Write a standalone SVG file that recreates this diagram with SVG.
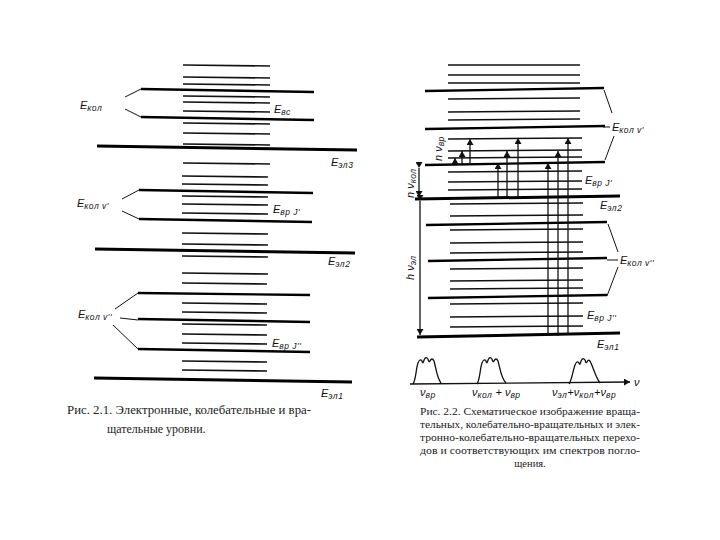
<svg xmlns="http://www.w3.org/2000/svg" width="720" height="540" viewBox="0 0 720 540">
<style>
.s{stroke:#111;stroke-width:1.6;fill:none}
.v{stroke:#000;stroke-width:2.4;fill:none}
.e{stroke:#000;stroke-width:3;fill:none}
.c{stroke:#111;stroke-width:1;fill:none}
.a{stroke:#111;stroke-width:1.3;fill:none}
.lb{font-family:"Liberation Sans",Arial,sans-serif;font-style:italic;font-size:11px;fill:#111}
.sb{font-size:8.5px;letter-spacing:0.5px}
.cap{font-family:"Liberation Serif","Times New Roman",serif;font-size:12px;fill:#222}
.cap2{font-family:"Liberation Serif","Times New Roman",serif;font-size:10.5px;fill:#222}
</style>
<defs>
<marker id="ah" markerUnits="userSpaceOnUse" markerWidth="6" markerHeight="7" refX="6" refY="3.5" orient="auto">
<path d="M0,0 L6,3.5 L0,7 z" fill="#111"/>
</marker>
</defs>
<rect width="720" height="540" fill="#fff"/>

<g id="fig1">
<g id="fig1-rot">
<line class="s" x1="183" y1="65" x2="270" y2="66"/>
<line class="s" x1="183" y1="77" x2="270" y2="78"/>
<line class="s" x1="183" y1="84" x2="270" y2="85"/>
<line class="s" x1="183" y1="96" x2="270" y2="97"/>
<line class="s" x1="183" y1="102" x2="270" y2="103"/>
<line class="s" x1="183" y1="111" x2="270" y2="112"/>
<line class="s" x1="183" y1="123" x2="270" y2="124"/>
<line class="s" x1="183" y1="133" x2="270" y2="134"/>
<line class="s" x1="183" y1="144" x2="270" y2="145"/>
<line class="s" x1="183" y1="163" x2="270" y2="164"/>
<line class="s" x1="182" y1="176" x2="268" y2="177"/>
<line class="s" x1="182" y1="184" x2="268" y2="185"/>
<line class="s" x1="182" y1="196" x2="268" y2="197"/>
<line class="s" x1="182" y1="204" x2="268" y2="205"/>
<line class="s" x1="182" y1="213" x2="268" y2="214"/>
<line class="s" x1="182" y1="233" x2="268" y2="234"/>
<line class="s" x1="182" y1="244" x2="268" y2="245"/>
<line class="s" x1="182" y1="256" x2="268" y2="257"/>
<line class="s" x1="182" y1="273" x2="268" y2="274"/>
<line class="s" x1="182" y1="283" x2="267" y2="284"/>
<line class="s" x1="182" y1="303" x2="267" y2="304"/>
<line class="s" x1="182" y1="312" x2="267" y2="313"/>
<line class="s" x1="182" y1="324" x2="267" y2="325"/>
<line class="s" x1="182" y1="334" x2="267" y2="335"/>
<line class="s" x1="182" y1="343" x2="267" y2="344"/>
<line class="s" x1="182" y1="361" x2="267" y2="362"/>
<line class="s" x1="182" y1="370" x2="267" y2="371"/>
</g>
<g id="fig1-vib">
<line class="v" x1="141" y1="89" x2="314" y2="92"/>
<line class="v" x1="141" y1="117" x2="314" y2="120"/>
<line class="v" x1="139" y1="190" x2="313" y2="193"/>
<line class="v" x1="139" y1="219" x2="312" y2="222"/>
<line class="v" x1="138" y1="293" x2="310" y2="295"/>
<line class="v" x1="138" y1="319" x2="310" y2="322"/>
<line class="v" x1="138" y1="349" x2="310" y2="352"/>
</g>
<g id="fig1-el">
<line class="e" x1="97" y1="146" x2="357" y2="150"/>
<line class="e" x1="95" y1="249" x2="355" y2="253"/>
<line class="e" x1="94" y1="378" x2="352" y2="382"/>
</g>
<g id="fig1-labels">
<text class="lb" x="80" y="109">E<tspan class="sb" dy="2">кол</tspan></text>
<text class="lb" x="274" y="113">E<tspan class="sb" dy="2">вс</tspan></text>
<text class="lb" x="331" y="166">E<tspan class="sb" dy="2">эл3</tspan></text>
<text class="lb" x="77" y="207">E<tspan class="sb" dy="2">кол v'</tspan></text>
<text class="lb" x="273" y="213">E<tspan class="sb" dy="2">вр J'</tspan></text>
<text class="lb" x="328" y="265">E<tspan class="sb" dy="2">эл2</tspan></text>
<text class="lb" x="78" y="318">E<tspan class="sb" dy="2">кол v''</tspan></text>
<text class="lb" x="272" y="347">E<tspan class="sb" dy="2">вр J''</tspan></text>
<text class="lb" x="321" y="397">E<tspan class="sb" dy="2">эл1</tspan></text>
</g>
</g>

<g id="fig2">
<g id="fig2-rot">
<line class="s" x1="448" y1="65" x2="580" y2="65"/>
<line class="s" x1="448" y1="75" x2="580" y2="75"/>
<line class="s" x1="448" y1="83" x2="580" y2="83"/>
<line class="s" x1="448" y1="99" x2="580" y2="98"/>
<line class="s" x1="448" y1="112" x2="580" y2="111"/>
<line class="s" x1="448" y1="120" x2="580" y2="119"/>
<line class="s" x1="448" y1="139" x2="582" y2="138"/>
<line class="s" x1="448" y1="151" x2="582" y2="150"/>
<line class="s" x1="448" y1="158" x2="582" y2="157"/>
<line class="s" x1="448" y1="172" x2="582" y2="171"/>
<line class="s" x1="448" y1="182" x2="582" y2="181"/>
<line class="s" x1="448" y1="190" x2="582" y2="189"/>
<line class="s" x1="450" y1="204" x2="583" y2="203"/>
<line class="s" x1="450" y1="216" x2="583" y2="215"/>
<line class="s" x1="450" y1="230" x2="583" y2="229"/>
<line class="s" x1="450" y1="243" x2="583" y2="242"/>
<line class="s" x1="450" y1="253" x2="583" y2="252"/>
<line class="s" x1="450" y1="269" x2="583" y2="268"/>
<line class="s" x1="450" y1="281" x2="583" y2="280"/>
<line class="s" x1="450" y1="289" x2="583" y2="288"/>
<line class="s" x1="450" y1="304" x2="583" y2="303"/>
<line class="s" x1="450" y1="317" x2="583" y2="316"/>
<line class="s" x1="450" y1="327" x2="583" y2="326"/>
</g>
<g id="fig2-vib">
<line class="v" x1="425" y1="91" x2="604" y2="88"/>
<line class="v" x1="425" y1="129" x2="605" y2="126"/>
<line class="v" x1="425" y1="165" x2="605" y2="162"/>
<line class="v" x1="426" y1="225" x2="607" y2="222"/>
<line class="v" x1="428" y1="261" x2="607" y2="258"/>
<line class="v" x1="428" y1="298" x2="607" y2="295"/>
</g>
<g id="fig2-el">
<line class="e" x1="415" y1="199" x2="620" y2="196"/>
<line class="e" x1="417" y1="337" x2="620" y2="333"/>
</g>
<g id="fig2-labels">
<text class="lb" x="612" y="131">E<tspan class="sb" dy="2">кол v'</tspan></text>
<text class="lb" x="585" y="184">E<tspan class="sb" dy="2">вр J'</tspan></text>
<text class="lb" x="600" y="209">E<tspan class="sb" dy="2">эл2</tspan></text>
<text class="lb" x="620" y="264">E<tspan class="sb" dy="2">кол v''</tspan></text>
<text class="lb" x="587" y="319">E<tspan class="sb" dy="2">вр J''</tspan></text>
<text class="lb" x="597" y="348">E<tspan class="sb" dy="2">эл1</tspan></text>
<text class="lb" transform="translate(442,161) rotate(-90)" font-size="10">n ν<tspan class="sb" dy="2">вр</tspan></text>
<text class="lb" transform="translate(414,198) rotate(-90)" font-size="10">n ν<tspan class="sb" dy="2">кол</tspan></text>
<text class="lb" transform="translate(414,280) rotate(-90)" font-size="10">h ν<tspan class="sb" dy="2">эл</tspan></text>
</g>
<g id="fig2-spectrum">
<path class="a" d="M413,384 C416,380 416,368 418,363 Q420,358 422,361 Q423,365 424,360 Q426,356 428,359 Q429,363 430,361 Q432,357 434,361 C436,368 437,378 441,383"/>
<path class="a" d="M477,384 C480,380 480,368 482,363 Q484,358 486,361 Q487,365 488,360 Q490,356 492,359 Q493,363 494,361 Q496,357 498,361 C500,368 501,378 506,383"/>
<path class="a" d="M569,384 C572,380 573,370 575,365 Q577,360 579,363 Q580,366 581,361 Q583,357 585,360 Q586,364 587,362 Q589,358 591,363 C594,370 596,378 600,383"/>
<text class="lb" x="420" y="396">ν<tspan class="sb" dy="2">вр</tspan></text>
<text class="lb" x="472" y="396">ν<tspan class="sb" dy="2">кол</tspan><tspan dy="-2"> + ν</tspan><tspan class="sb" dy="2">вр</tspan></text>
<text class="lb" x="552" y="396">ν<tspan class="sb" dy="2">эл</tspan><tspan dy="-2">+ν</tspan><tspan class="sb" dy="2">кол</tspan><tspan dy="-2">+ν</tspan><tspan class="sb" dy="2">вр</tspan></text>
<text class="lb" x="634" y="386">ν</text>
</g>
</g>

<g id="connectors">
<line class="c" x1="125" y1="97" x2="141" y2="89"/>
<line class="c" x1="125" y1="109" x2="141" y2="117"/>
<line class="c" x1="122" y1="199" x2="139" y2="190"/>
<line class="c" x1="122" y1="211" x2="139" y2="219"/>
<line class="c" x1="115" y1="309" x2="138" y2="293"/>
<line class="c" x1="120" y1="318" x2="138" y2="320"/>
<line class="c" x1="113" y1="325" x2="138" y2="349"/>
<line class="c" x1="604" y1="90" x2="612" y2="113"/>
<line class="c" x1="603" y1="127" x2="610" y2="127"/>
<line class="c" x1="614" y1="136" x2="605" y2="160"/>
<line class="c" x1="608" y1="224" x2="618" y2="252"/>
<line class="c" x1="607" y1="260" x2="618" y2="260"/>
<line class="c" x1="618" y1="267" x2="607" y2="296"/>
<line class="a" x1="419" y1="168" x2="419" y2="197" marker-start="url(#ah)" marker-end="url(#ah)"/>
<line class="a" x1="420" y1="201" x2="420" y2="335" marker-start="url(#ah)" marker-end="url(#ah)"/>
<line class="a" x1="455" y1="164" x2="455" y2="158" marker-end="url(#ah)"/>
<line class="a" x1="462" y1="164" x2="462" y2="151" marker-end="url(#ah)"/>
<line class="a" x1="470" y1="164" x2="470" y2="139" marker-end="url(#ah)"/>
<line class="a" x1="498" y1="198" x2="498" y2="163" marker-end="url(#ah)"/>
<line class="a" x1="507" y1="198" x2="507" y2="151" marker-end="url(#ah)"/>
<line class="a" x1="518" y1="198" x2="518" y2="138" marker-end="url(#ah)"/>
<line class="a" x1="548" y1="336" x2="548" y2="163" marker-end="url(#ah)"/>
<line class="a" x1="558" y1="336" x2="558" y2="151" marker-end="url(#ah)"/>
<line class="a" x1="568" y1="335" x2="568" y2="138" marker-end="url(#ah)"/>
<line class="a" x1="410" y1="384" x2="630" y2="382" marker-end="url(#ah)"/>
</g>

<g id="captions">
<text class="cap" x="67" y="414" textLength="244" lengthAdjust="spacingAndGlyphs">Рис. 2.1. Электронные, колебательные и вра-</text>
<text class="cap" x="107" y="433">щательные уровни.</text>
<text class="cap2" x="420" y="415" textLength="220" lengthAdjust="spacingAndGlyphs">Рис. 2.2. Схематическое изображение враща-</text>
<text class="cap2" x="420" y="428" textLength="220" lengthAdjust="spacingAndGlyphs">тельных, колебательно-вращательных и элек-</text>
<text class="cap2" x="420" y="441" textLength="220" lengthAdjust="spacingAndGlyphs">тронно-колебательно-вращательных   перехо-</text>
<text class="cap2" x="420" y="454" textLength="220" lengthAdjust="spacingAndGlyphs">дов и соответствующих им спектров погло-</text>
<text class="cap2" x="530" y="467" text-anchor="middle">щения.</text>
</g>
</svg>
